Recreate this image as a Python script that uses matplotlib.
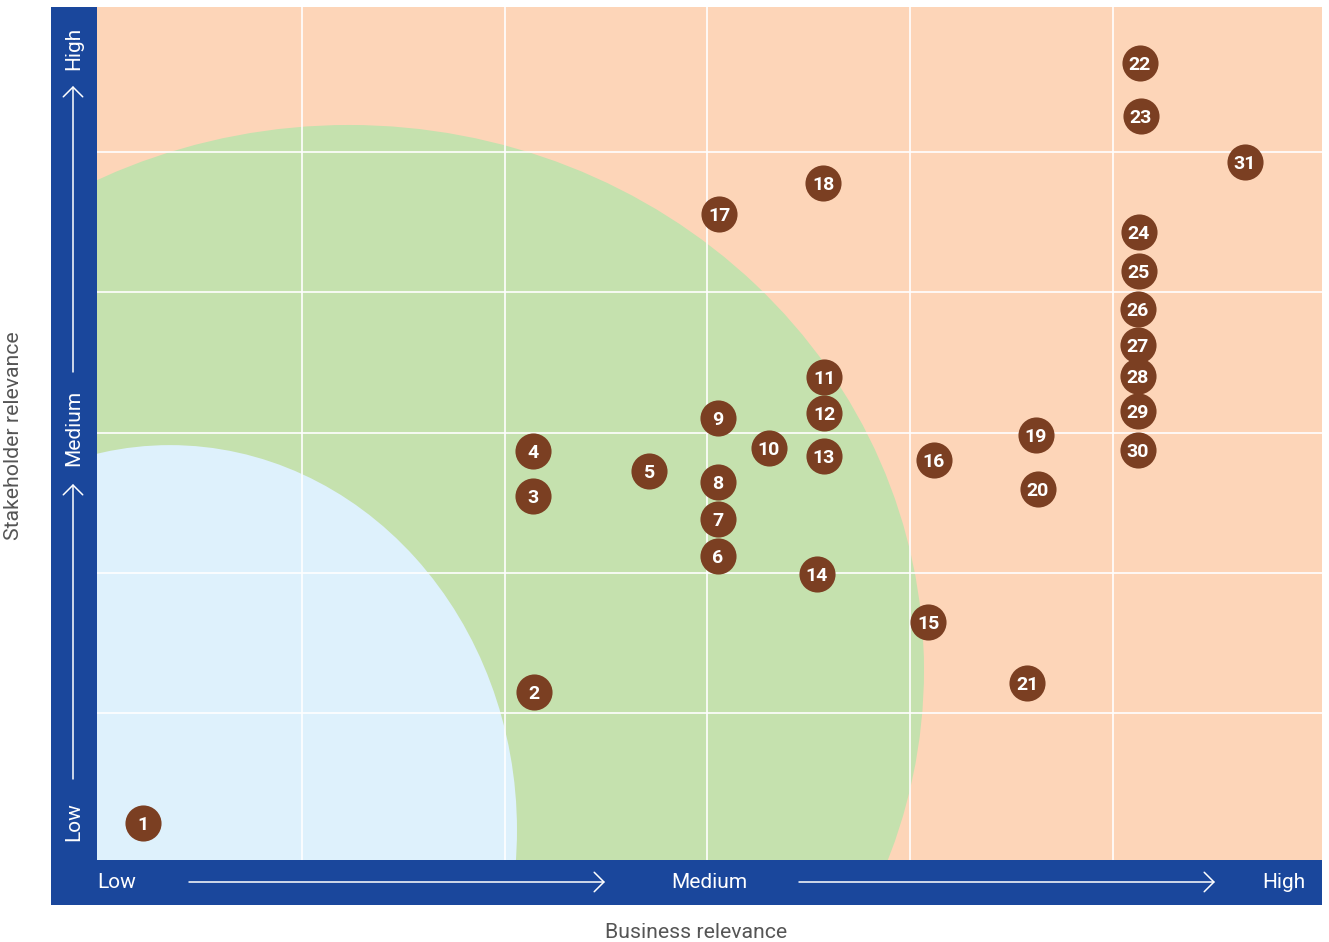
import matplotlib.pyplot as plt
from matplotlib.patches import Ellipse, Rectangle

# topic numbers and their position (business relevance, stakeholder relevance)
labels = [str(i) for i in range(1, 32)]
business = [0.217, 2.145, 2.140, 2.140, 2.713, 3.053, 3.053, 3.053, 3.053, 3.304,
            3.576, 3.576, 3.576, 3.541, 4.089, 4.118, 3.058, 3.571, 4.621, 4.631,
            4.577, 5.134, 5.139, 5.129, 5.129, 5.124, 5.124, 5.124, 5.124, 5.124,
            5.652]
stakeholder = [0.215, 1.150, 2.548, 2.869, 2.726, 2.120, 2.384, 2.648, 3.104, 2.890,
               3.397, 3.140, 2.833, 1.991, 1.649, 2.805, 4.559, 4.780, 2.983, 2.598,
               1.214, 5.636, 5.258, 4.431, 4.153, 3.882, 3.625, 3.404, 3.154, 2.876,
               4.930]
level_labels = ["Low", "Medium", "High"]

PEACH = "#FDD5B8"
GREEN = "#C5E1AE"
LIGHTBLUE = "#DEF1FC"
BAND = "#1A479C"
DOT = "#7B3F22"
GREY = "#555555"

plt.rcParams['font.family'] = ['Roboto', 'DejaVu Sans']

W, H = 1329, 942
fig = plt.figure(figsize=(W / 100, H / 100), dpi=100)

# overlay in pixel units for the blue bands, arrows and axis captions
deco = fig.add_axes([0, 0, 1, 1], zorder=0)
deco.set_xlim(0, W)
deco.set_ylim(H, 0)
deco.axis('off')
deco.add_patch(Rectangle((51, 7), 46, 898, color=BAND, lw=0))
deco.add_patch(Rectangle((51, 860), 1271, 45, color=BAND, lw=0))

arrow = dict(arrowstyle='->,head_length=0.35,head_width=0.35', color='white',
             lw=1.1, mutation_scale=20, shrinkA=0, shrinkB=0)
# bottom band
deco.text(97, 883, level_labels[0], color='white', fontsize=15, ha='left', va='center')
deco.text(709, 883, level_labels[1], color='white', fontsize=15, ha='center', va='center')
deco.text(1305, 883, level_labels[2], color='white', fontsize=15, ha='right', va='center')
deco.annotate('', xy=(605, 882), xytext=(189, 882), arrowprops=arrow)
deco.annotate('', xy=(1215, 882), xytext=(799, 882), arrowprops=arrow)
# left band
deco.text(74, 822, level_labels[0], color='white', fontsize=15, ha='center', va='center', rotation=90)
deco.text(74, 428, level_labels[1], color='white', fontsize=15, ha='center', va='center', rotation=90)
deco.text(74, 48, level_labels[2], color='white', fontsize=15, ha='center', va='center', rotation=90)
deco.annotate('', xy=(73, 484), xytext=(73, 779), arrowprops=arrow)
deco.annotate('', xy=(73, 86), xytext=(73, 372), arrowprops=arrow)

deco.text(14, 436, "Stakeholder relevance", color=GREY, fontsize=15.3,
          ha='center', va='center', rotation=90)
deco.text(696, 932, "Business relevance", color=GREY, fontsize=15.3,
          ha='center', va='center')

# main matrix
ax = fig.add_axes([97 / W, 82 / H, 1225 / W, 853 / H], zorder=1)
ax.set_xlim(-0.01, 6.032)
ax.set_ylim(-0.0485, 6.036)
ax.set_facecolor(PEACH)
ax.add_patch(Ellipse((1.233, 1.307), 5.672, 7.775, color=GREEN, lw=0, zorder=0))
ax.add_patch(Ellipse((0.350, 0.165), 3.423, 5.492, color=LIGHTBLUE, lw=0, zorder=0))

ax.set_xticks([1, 2, 3, 4, 5])
ax.set_yticks([1, 2, 3, 4, 5])
ax.grid(True, color='white', lw=1.2, zorder=1)
ax.set_axisbelow(False)
ax.tick_params(length=0, labelbottom=False, labelleft=False)
for s in ax.spines.values():
    s.set_visible(False)

ax.plot(business, stakeholder, 'o', color=DOT, markersize=26, ls='none',
        markeredgewidth=0, zorder=3)
for lab, x, y in zip(labels, business, stakeholder):
    ax.text(x, y, lab, color='white', fontsize=14, fontweight='bold',
            ha='center', va='center_baseline', zorder=4)

fig.savefig('out.png', dpi=100)
